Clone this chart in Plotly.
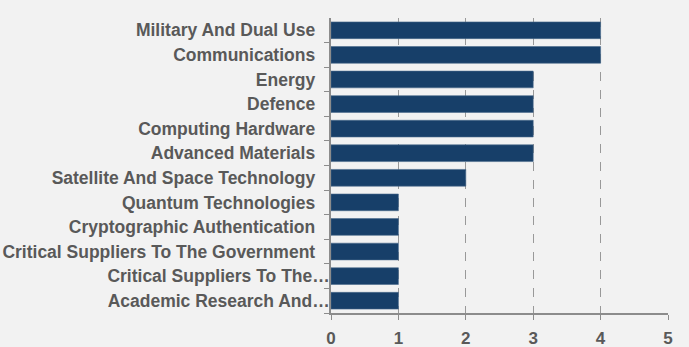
import plotly.graph_objects as go

categories = [
    "Military And Dual Use",
    "Communications",
    "Energy",
    "Defence",
    "Computing Hardware",
    "Advanced Materials",
    "Satellite And Space Technology",
    "Quantum Technologies",
    "Cryptographic Authentication",
    "Critical Suppliers To The Government",
    "Critical Suppliers To The…",
    "Academic Research And…",
]
values = [4, 4, 3, 3, 3, 3, 2, 1, 1, 1, 1, 1]
x_ticks = [0, 1, 2, 3, 4, 5]

font_family = "Liberation Sans, Arial, sans-serif"
text_color = "#595959"

# truncated labels sit flush against the axis; full labels keep a gap
pad = "\u00a0\u00a0\u00a0"
y_ticktext = [c if c.endswith("…") else c + pad for c in categories]

fig = go.Figure(
    go.Bar(
        x=values,
        y=categories,
        orientation="h",
        marker=dict(color="#173f69", line=dict(color="#4a6a8c", width=0.6)),
    )
)

fig.update_layout(
    width=689,
    height=347,
    margin=dict(l=331, r=21, t=18, b=34),
    paper_bgcolor="#f2f2f2",
    plot_bgcolor="#f2f2f2",
    bargap=0.32,
    showlegend=False,
    font=dict(family=font_family, color=text_color, size=17.5, weight="bold"),
)

fig.update_xaxes(
    range=[0, 5],
    tickvals=x_ticks,
    ticktext=[str(v) for v in x_ticks],
    showgrid=True,
    gridcolor="#999999",
    griddash="dash",
    gridwidth=1,
    showline=True,
    linecolor="#8c8c8c",
    linewidth=1.5,
    ticks="outside",
    ticklen=5,
    tickcolor="#8c8c8c",
    ticklabelstandoff=4,
    tickfont=dict(family=font_family, size=17, color=text_color, weight="bold"),
    zeroline=False,
    automargin=False,
    fixedrange=True,
)

fig.update_yaxes(
    categoryorder="array",
    categoryarray=categories[::-1],
    tickmode="array",
    tickvals=categories,
    ticktext=y_ticktext,
    autorange=True,
    showline=True,
    linecolor="#8c8c8c",
    linewidth=1.5,
    ticks="outside",
    ticklen=5,
    tickcolor="#8c8c8c",
    tickson="boundaries",
    ticklabelstandoff=-4,
    tickfont=dict(family=font_family, size=17.5, color=text_color, weight="bold"),
    showgrid=False,
    automargin=False,
    fixedrange=True,
)

fig.write_html("out.html")
